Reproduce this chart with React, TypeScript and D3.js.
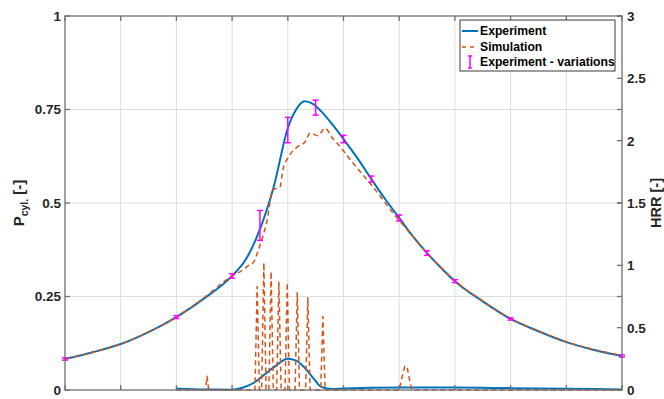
import React from "react";
import * as d3 from "d3";

// Crank angle grid (deg) and normalised cylinder pressure, measured
const expAngle = [-50, -45, -40, -35, -30, -25, -20, -17.5, -15, -12.5, -10, -8.5, -7, -5.5, -4, -2, 0, 2.5, 5, 7.5, 10, 12.5, 15, 17.5, 20, 25, 30, 35, 40, 45, 50];
const expPressure = [0.083, 0.101, 0.123, 0.155, 0.195, 0.245, 0.305, 0.35, 0.43, 0.545, 0.7, 0.75, 0.772, 0.765, 0.745, 0.71, 0.671, 0.62, 0.564, 0.51, 0.46, 0.41, 0.366, 0.327, 0.291, 0.237, 0.19, 0.157, 0.128, 0.107, 0.091];

// Simulated pressure
const simAngle = [-50, -45, -40, -35, -30, -25, -20, -18.6, -16.8, -16.2, -15.3, -13.7, -12.7, -11.4, -10.9, -10, -8.3, -6.9, -6, -4.6, -3.3, -2.1, -0.6, 1.7, 5.3, 8.9, 12.5, 15, 17.5, 20, 25, 30, 35, 40, 45, 50];
const simPressure = [0.083, 0.101, 0.123, 0.155, 0.195, 0.247, 0.305, 0.316, 0.335, 0.34, 0.374, 0.455, 0.535, 0.543, 0.588, 0.62, 0.65, 0.663, 0.687, 0.68, 0.7, 0.676, 0.65, 0.607, 0.543, 0.473, 0.41, 0.366, 0.328, 0.292, 0.238, 0.191, 0.158, 0.129, 0.108, 0.092];

// Heat release rate, measured
const expHrrAngle = [-30, -25, -20, -18, -16, -14, -12, -10, -8.5, -7, -5.5, -4, -2, 0, 10, 20, 30, 40, 50];
const expHrr = [0.012, 0.004, 0.003, 0.02, 0.06, 0.13, 0.2, 0.25, 0.235, 0.18, 0.1, 0.025, 0.008, 0.012, 0.02, 0.02, 0.015, 0.01, 0.005];

// Heat release rate, simulated (spiky combustion events)
const simHrrAngle = [-30, -24.8, -24.5, -24.2, -15.9, -15.5, -15.1, -14.7, -14.3, -13.9, -13.4, -13.0, -12.6, -12.0, -11.6, -11.2, -10.5, -10.1, -9.7, -8.7, -8.3, -7.9, -6.8, -6.4, -6.0, -4.1, -3.7, -3.3, 10.0, 10.6, 11.0, 11.4, 11.9, 12.3, 50];
const simHrr = [0, 0, 0.11, 0, 0, 0.83, 0, 0, 1.02, 0, 0, 0.95, 0, 0, 0.87, 0, 0, 0.86, 0, 0, 0.78, 0, 0, 0.74, 0, 0, 0.59, 0, 0, 0.12, 0.19, 0.19, 0.07, 0, 0];

// Cycle-to-cycle spread of the measured pressure
const errAngle = [-50, -30, -20, -15, -10, -5, 0, 5, 10, 15, 20, 30, 50];
const errMean = [0.083, 0.195, 0.305, 0.44, 0.695, 0.755, 0.671, 0.564, 0.46, 0.366, 0.291, 0.19, 0.091];
const errDelta = [0.003, 0.004, 0.006, 0.04, 0.034, 0.02, 0.01, 0.008, 0.008, 0.006, 0.004, 0.003, 0.003];

const leftTicks = [0, 0.25, 0.5, 0.75, 1];
const leftTickLabels = ["0", "0.25", "0.5", "0.75", "1"];
const rightTicks = [0, 0.5, 1, 1.5, 2, 2.5, 3];
const rightTickLabels = ["0", "0.5", "1", "1.5", "2", "2.5", "3"];
const xTicks = [-50, -40, -30, -20, -10, 0, 10, 20, 30, 40, 50];

const legendLabels = ["Experiment", "Simulation", "Experiment - variations"];

const BLUE = "#0072BD";
const ORANGE = "#D95319";
const MAGENTA = "#FF00FF";
const AXIS = "#707070";
const GRID = "#dedede";
const TEXT = "#262626";
const FONT = "'Liberation Sans', Arial, sans-serif";

export default function App() {
  const W = 664, H = 399;
  const L = 65, R = 622, T = 16, B = 390;

  const x = d3.scaleLinear().domain([-50, 50]).range([L, R]);
  const yL = d3.scaleLinear().domain([0, 1]).range([B, T]);
  const yR = d3.scaleLinear().domain([0, 3]).range([B, T]);

  const pLine = d3.line<number>().x((_, i) => x(expAngle[i])).y((d) => yL(d)).curve(d3.curveMonotoneX);
  const sLine = d3.line<number>().x((_, i) => x(simAngle[i])).y((d) => yL(d)).curve(d3.curveMonotoneX);
  const hExp = d3.line<number>().x((_, i) => x(expHrrAngle[i])).y((d) => yR(d)).curve(d3.curveMonotoneX);
  const hSim = d3.line<number>().x((_, i) => x(simHrrAngle[i])).y((d) => yR(d));

  const tickLen = 5;
  const cap = 3;

  return (
    <svg width={W} height={H} style={{ position: "absolute", left: 0, top: 0, background: "#fff" }} fontFamily={FONT}>
      <rect x={0} y={0} width={W} height={H} fill="#fff" />
      {/* grid */}
      {xTicks.slice(1, -1).map((t) => (
        <line key={"gx" + t} x1={x(t)} x2={x(t)} y1={T} y2={B} stroke={GRID} strokeWidth={1} />
      ))}
      {leftTicks.slice(1, -1).map((t) => (
        <line key={"gy" + t} x1={L} x2={R} y1={yL(t)} y2={yL(t)} stroke={GRID} strokeWidth={1} />
      ))}

      {/* heat release rate (right axis) */}
      <path d={hExp(expHrr) || ""} fill="none" stroke={BLUE} strokeWidth={2} />
      <path d={hSim(simHrr) || ""} fill="none" stroke={ORANGE} strokeWidth={1.5} strokeDasharray="5,3.5" strokeLinejoin="round" />

      {/* cylinder pressure (left axis) */}
      <path d={pLine(expPressure) || ""} fill="none" stroke={BLUE} strokeWidth={2} />
      <path d={sLine(simPressure) || ""} fill="none" stroke={ORANGE} strokeWidth={1.5} strokeDasharray="5,3.5" />

      {/* error bars */}
      {errAngle.map((a, i) => {
        const cx = x(a);
        const y1 = yL(errMean[i] - errDelta[i]);
        const y2 = yL(errMean[i] + errDelta[i]);
        return (
          <g key={"e" + i} stroke={MAGENTA} strokeWidth={1.5}>
            <line x1={cx} x2={cx} y1={y1} y2={y2} />
            <line x1={cx - cap} x2={cx + cap} y1={y1} y2={y1} />
            <line x1={cx - cap} x2={cx + cap} y1={y2} y2={y2} />
          </g>
        );
      })}

      {/* axes frame */}
      <rect x={L} y={T} width={R - L} height={B - T} fill="none" stroke={AXIS} strokeWidth={1.3} />
      {xTicks.map((t) => (
        <g key={"xt" + t} stroke={AXIS} strokeWidth={1.3}>
          <line x1={x(t)} x2={x(t)} y1={B} y2={B - tickLen} />
          <line x1={x(t)} x2={x(t)} y1={T} y2={T + tickLen} />
        </g>
      ))}
      {leftTicks.map((t, i) => (
        <g key={"lt" + t}>
          <line x1={L} x2={L + tickLen} y1={yL(t)} y2={yL(t)} stroke={AXIS} strokeWidth={1.3} />
          <line x1={R} x2={R - tickLen} y1={yL(t)} y2={yL(t)} stroke={AXIS} strokeWidth={1.3} />
          <text x={L - 4} y={yL(t)} dy="0.36em" textAnchor="end" fontSize={13.5} fontWeight="bold" fill={TEXT}>
            {leftTickLabels[i]}
          </text>
        </g>
      ))}
      {rightTicks.map((t, i) => (
        <g key={"rt" + t}>
          <line x1={R} x2={R - tickLen} y1={yR(t)} y2={yR(t)} stroke={AXIS} strokeWidth={1.3} />
          <text x={R + 5} y={yR(t)} dy="0.36em" textAnchor="start" fontSize={13.5} fontWeight="bold" fill={TEXT}>
            {rightTickLabels[i]}
          </text>
        </g>
      ))}

      {/* axis titles */}
      <text transform={`translate(24,${(T + B) / 2}) rotate(-90)`} textAnchor="middle" fontSize={15} fontWeight="bold" fill={TEXT}>
        P<tspan fontSize={10.5} dy={4}>cyl.</tspan>
        <tspan dy={-4}> [-]</tspan>
      </text>
      <text transform={`translate(661,${(T + B) / 2}) rotate(-90)`} textAnchor="middle" fontSize={14.5} fontWeight="bold" fill={TEXT}>
        HRR [-]
      </text>

      {/* legend */}
      <g>
        <rect x={460} y={20} width={155} height={51} fill="#fff" stroke="#3a3a3a" strokeWidth={1} />
        <line x1={462} x2={478} y1={31} y2={31} stroke={BLUE} strokeWidth={2} />
        <line x1={462} x2={478} y1={47} y2={47} stroke={ORANGE} strokeWidth={1.5} strokeDasharray="4,4" />
        <g stroke={MAGENTA} strokeWidth={1.5}>
          <line x1={470} x2={470} y1={56} y2={68} />
          <line x1={468} x2={472} y1={56} y2={56} />
          <line x1={468} x2={472} y1={68} y2={68} />
        </g>
        {legendLabels.map((s, i) => (
          <text key={s} x={480} y={31 + i * 15.5} dy="0.36em" fontSize={12.2} fontWeight="bold" fill="#000">
            {s}
          </text>
        ))}
      </g>
    </svg>
  );
}
